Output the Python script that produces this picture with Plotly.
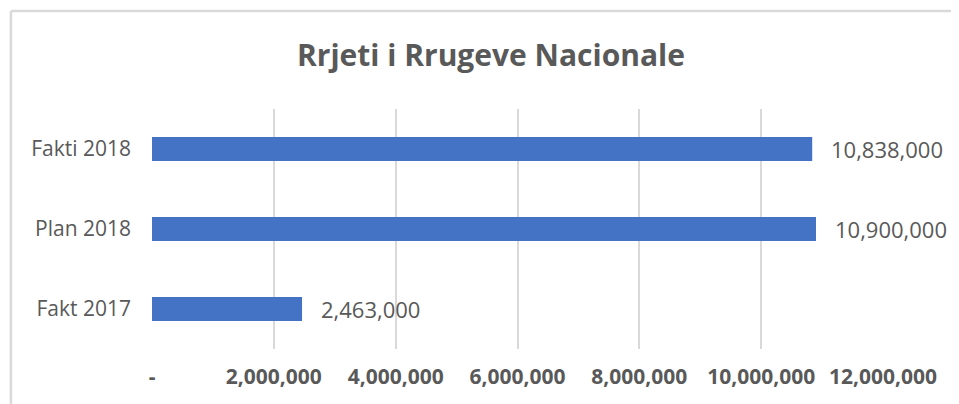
import plotly.graph_objects as go

# data
categories = ['Fakt 2017', 'Plan 2018', 'Fakti 2018']
values = [2463000, 10900000, 10838000]
tick_vals = [0, 2000000, 4000000, 6000000, 8000000, 10000000, 12000000]
tick_text = ['-', '2,000,000', '4,000,000', '6,000,000', '8,000,000', '10,000,000', '12,000,000']

grey = '#595959'
fnt = 'Open Sans'

fig = go.Figure()
fig.add_trace(go.Bar(
    y=categories, x=values, orientation='h', width=0.3,
    marker=dict(color='#4472C4', line=dict(width=0)),
))

for c, v in zip(categories, values):
    fig.add_annotation(x=v, y=c, text=f'{v:,}', showarrow=False,
                       xanchor='left', xshift=17,
                       font=dict(family=fnt, size=22, color=grey))

# figure sized so the page (8px body margin) fits the window
fig.update_layout(
    width=951, height=396,
    margin=dict(l=144, r=76, t=101, b=55),
    paper_bgcolor='white', plot_bgcolor='white',
    showlegend=False,
    title=dict(text='<b>Rrjeti i Rrugeve Nacionale</b>', x=483 / 951, xanchor='center',
               y=1 - 47 / 396, yanchor='middle',
               font=dict(family=fnt, size=30, color=grey)),
    font=dict(family=fnt, color=grey),
)
fig.update_xaxes(range=[0, 12000000], tickvals=tick_vals, ticktext=tick_text,
                 showgrid=True, gridcolor='#d9d9d9', gridwidth=1.5,
                 zeroline=False, showline=False, ticklabelstandoff=13,
                 tickfont=dict(family=fnt, size=21, color=grey, weight='bold'))
fig.update_yaxes(showgrid=False, zeroline=False, showline=False,
                 ticklabelstandoff=20,
                 tickfont=dict(family=fnt, size=21, color=grey))

# chart border (only left and top edges are in view)
fig.add_shape(type='line', xref='paper', yref='paper',
              x0=-0.193, x1=-0.193, y0=-0.3, y1=1.408,
              line=dict(color='#d9d9d9', width=2.5), layer='below')
fig.add_shape(type='line', xref='paper', yref='paper',
              x0=-0.193, x1=1.2, y0=1.408, y1=1.408,
              line=dict(color='#d9d9d9', width=2.5), layer='below')

fig.write_html('out.html')
